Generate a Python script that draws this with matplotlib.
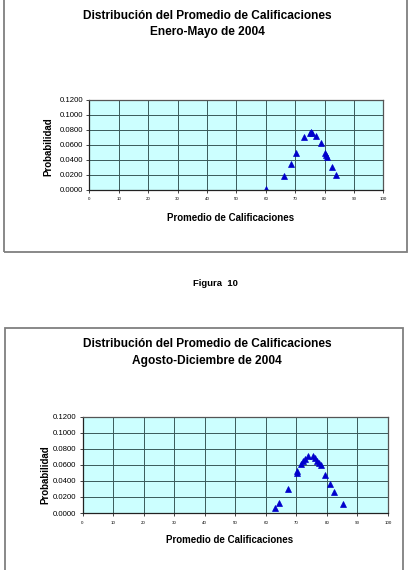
import matplotlib
matplotlib.use("Agg")
import matplotlib.pyplot as plt
from matplotlib.patches import Rectangle

plt.rcParams['font.family'] = ['Liberation Sans', 'DejaVu Sans']

# ---- data ----
title1 = "Distribución del Promedio de Calificaciones\nEnero-Mayo de 2004"
title2 = "Distribución del Promedio de Calificaciones\nAgosto-Diciembre de 2004"
fig_caption = "Figura  10"
xlabel = "Promedio de Calificaciones"
ylabel = "Probabilidad"

x_ticks = [0, 10, 20, 30, 40, 50, 60, 70, 80, 90, 100]
y_ticks = [0.0, 0.02, 0.04, 0.06, 0.08, 0.10, 0.12]

enero_x = [59.9, 66.2, 68.7, 70.3, 73.0, 74.9, 75.3, 75.7, 77.0, 78.7, 80.0, 80.5, 80.9, 82.4, 83.9]
enero_y = [0.0010, 0.0178, 0.0343, 0.0493, 0.0698, 0.0760, 0.0764, 0.0760, 0.0710, 0.0622,
           0.0490, 0.0467, 0.0430, 0.0307, 0.0196]

agosto_x = [63.1, 64.4, 67.4, 70.1, 70.3, 71.6, 72.3, 72.9, 73.9, 75.5, 76.2, 76.9, 77.5,
            78.0, 79.5, 81.0, 82.3, 85.2]
agosto_y = [0.0066, 0.0120, 0.0293, 0.0503, 0.0520, 0.0615, 0.0643, 0.0676, 0.0705, 0.0705,
            0.0680, 0.0650, 0.0622, 0.0594, 0.0478, 0.0355, 0.0256, 0.0108]

W, H = 410, 570
fig = plt.figure(figsize=(W / 100, H / 100), dpi=100)
fig.patch.set_facecolor('white')


def fx(px):
    return px / W


def fy(py):
    return 1 - py / H


# outer chart frames
fig.patches.append(Rectangle((fx(4), fy(252)), fx(403), (252 + 5) / H, transform=fig.transFigure,
                             fill=False, edgecolor='#7f7f7f', linewidth=1.3))
fig.patches.append(Rectangle((fx(5), fy(575)), fx(398), (575 - 328) / H, transform=fig.transFigure,
                             fill=False, edgecolor='#7f7f7f', linewidth=1.3))


def make_chart(rect, xs, ys, title, title_y, xlab_y, ylab_x, ylab_yc):
    l, t, r, b = rect
    ax = fig.add_axes([fx(l), fy(b), fx(r - l), (b - t) / H])
    ax.set_facecolor('#ccffff')
    ax.plot(xs, ys, linestyle='none', marker='^', markersize=4.0, color='#0000cc',
            markeredgecolor='#0000cc', markeredgewidth=0.5)
    ax.set_xlim(0, 100)
    ax.set_ylim(0, 0.12)
    ax.set_xticks(x_ticks)
    ax.set_yticks(y_ticks)
    ax.set_xticklabels([str(v) for v in x_ticks], fontsize=3.2)
    ax.set_yticklabels(["%.4f" % v for v in y_ticks], fontsize=5.6)
    ax.grid(True, color='#3a5a5a', linewidth=0.7)
    ax.set_axisbelow(True)
    for s in ['top', 'right']:
        ax.spines[s].set_color('#555555')
        ax.spines[s].set_linewidth(0.9)
    for s in ['left', 'bottom']:
        ax.spines[s].set_color('#222222')
        ax.spines[s].set_linewidth(0.9)
    ax.tick_params(axis='both', direction='out', length=2.5, width=0.6, color='#222222', pad=2)
    ax.tick_params(axis='x', pad=3)
    fig.text(fx(207), fy(title_y), title, ha='center', va='center', fontsize=8.6,
             fontweight='bold', linespacing=1.5)
    fig.text(fx((l + r) / 2 - 6), fy(xlab_y), xlabel, ha='center', va='center', fontsize=7.0,
             fontweight='bold')
    fig.text(fx(ylab_x), fy(ylab_yc), ylabel, ha='center', va='center', fontsize=7.0,
             fontweight='bold', rotation=90)
    return ax


make_chart((89.3, 99.5, 383.5, 189.8), enero_x, enero_y, title1, 24, 218, 48, 147)
make_chart((82.5, 416.5, 388, 513), agosto_x, agosto_y, title2, 352.5, 540, 45, 475)

fig.text(fx(215), fy(284), fig_caption, ha='center', va='center', fontsize=6.8, fontweight='bold')

fig.savefig('out.png', dpi=100, facecolor='white')
